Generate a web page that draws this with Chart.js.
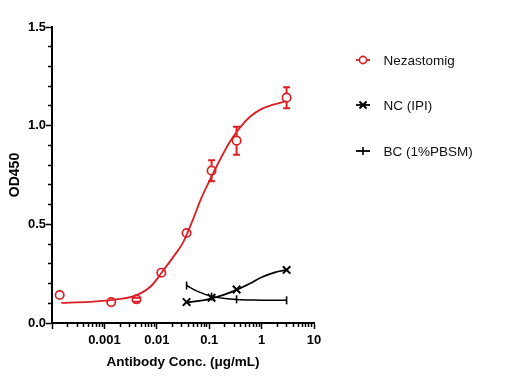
<!DOCTYPE html>
<html>
<head>
<meta charset="utf-8">
<script src="https://cdn.jsdelivr.net/npm/chart.js@4.4.1/dist/chart.umd.min.js"></script>
<style>
  html, body { margin: 0; padding: 0; background: #fff; }
  #wrap { width: 528px; height: 382px; position: relative; }
</style>
</head>
<body>
<div id="wrap"><canvas id="c" width="528" height="382"></canvas></div>
<script>
// ---- data ----
const seriesNames = ['Nezastomig', 'NC (IPI)', 'BC (1%PBSM)'];

const nezX = [0.00014, 0.00135, 0.0041, 0.0122, 0.037, 0.111, 0.333, 3];
const nezY = [0.142, 0.106, 0.120, 0.255, 0.456, 0.772, 0.924, 1.142];
const nezErrLow  = [null, null, 0.108, null, null, 0.718, 0.852, 1.088];
const nezErrHigh = [null, null, 0.128, null, null, 0.825, 0.995, 1.195];

const nezFitX = [0.00015, 0.0005, 0.0013, 0.004, 0.008, 0.0125, 0.02, 0.032, 0.05, 0.07, 0.11, 0.17, 0.25, 0.4, 0.6, 1.0, 1.6, 3];
const nezFitY = [0.102, 0.107, 0.116, 0.140, 0.190, 0.257, 0.330, 0.410, 0.530, 0.630, 0.740, 0.840, 0.920, 0.995, 1.045, 1.085, 1.105, 1.125];

const ncX = [0.037, 0.111, 0.333, 3];
const ncY = [0.106, 0.128, 0.170, 0.269];
const ncFitX = [0.037, 0.07, 0.111, 0.2, 0.333, 0.6, 1.0, 1.8, 3];
const ncFitY = [0.104, 0.113, 0.125, 0.145, 0.168, 0.200, 0.232, 0.257, 0.269];

const bcX = [0.037, 0.111, 0.333, 3];
const bcY = [0.190, 0.134, 0.120, 0.115];
const bcFitX = [0.037, 0.06, 0.111, 0.2, 0.333, 0.7, 1.5, 3];
const bcFitY = [0.190, 0.160, 0.135, 0.124, 0.119, 0.116, 0.115, 0.115];

const xTickValues = [0.001, 0.01, 0.1, 1, 10];
const xTickLabels = ['0.001', '0.01', '0.1', '1', '10'];
const yTickValues = [0, 0.5, 1.0, 1.5];
const yTickLabels = ['0.0', '0.5', '1.0', '1.5'];

// ---- styling ----
const RED = '#dc1e24';
const BLACK = '#000000';
const FONT = '"Liberation Sans", Arial, Helvetica, sans-serif';

const pts = (xs, ys) => xs.map((x, i) => ({ x: x, y: ys[i] }));

function near(a, b) { return Math.abs(a - b) <= Math.abs(b) * 1e-6 + 1e-12; }
function isXMajor(v) { return near(v, 1e-4) || xTickValues.some(t => near(v, t)); }
function isYMajor(v) { return yTickValues.some(t => Math.abs(v - t) < 1e-6); }

// error bars drawn through the chart's own scales
const errorBarPlugin = {
  id: 'errorBars',
  afterDatasetsDraw(chart) {
    const ctx = chart.ctx;
    const xs = chart.scales.x, ys = chart.scales.y;
    ctx.save();
    ctx.strokeStyle = RED;
    ctx.lineWidth = 2;
    nezX.forEach((x, i) => {
      if (nezErrLow[i] == null) return;
      const px = xs.getPixelForValue(x);
      const lo = ys.getPixelForValue(nezErrLow[i]);
      const hi = ys.getPixelForValue(nezErrHigh[i]);
      const r = 4.2;
      const cy = ys.getPixelForValue(nezY[i]);
      ctx.beginPath();
      if (hi < cy - r) { ctx.moveTo(px, cy - r); ctx.lineTo(px, hi); }
      if (lo > cy + r) { ctx.moveTo(px, cy + r); ctx.lineTo(px, lo); }
      ctx.moveTo(px - 3.5, hi); ctx.lineTo(px + 3.5, hi);
      ctx.moveTo(px - 3.5, lo); ctx.lineTo(px + 3.5, lo);
      ctx.stroke();
    });
    ctx.restore();
  }
};

// legend drawn on the right
const legendPlugin = {
  id: 'sideLegend',
  afterDraw(chart) {
    const ctx = chart.ctx;
    const items = [
      { y: 60, color: RED, style: 'circle', r: 3.6, rot: 0, bw: 1.6 },
      { y: 105, color: BLACK, style: 'crossRot', r: 5, rot: 0, bw: 1.9 },
      { y: 151, color: BLACK, style: 'line', r: 4, rot: 90, bw: 1.6 }
    ];
    ctx.save();
    items.forEach((it, i) => {
      ctx.strokeStyle = it.color;
      ctx.lineWidth = 1.8;
      ctx.beginPath();
      ctx.moveTo(356, it.y);
      ctx.lineTo(370, it.y);
      ctx.stroke();
      ctx.fillStyle = '#ffffff';
      ctx.strokeStyle = it.color;
      ctx.lineWidth = it.bw;
      Chart.helpers.drawPoint(ctx, { pointStyle: it.style, radius: it.r, rotation: it.rot, borderWidth: it.bw }, 363, it.y);
      ctx.fillStyle = '#111111';
      ctx.font = '13.5px ' + FONT;
      ctx.textAlign = 'left';
      ctx.textBaseline = 'middle';
      ctx.fillText(seriesNames[i], 383.5, it.y + 1);
    });
    ctx.restore();
  }
};

const xAllTicks = [];
for (let e = -4; e <= 0; e++) {
  for (let m = 1; m <= 9; m++) xAllTicks.push(Number((m * Math.pow(10, e)).toPrecision(6)));
}
xAllTicks.push(10);

const yAllTicks = [];
for (let k = 0; k <= 15; k++) yAllTicks.push(Number((k * 0.1).toFixed(1)));

new Chart(document.getElementById('c'), {
  type: 'scatter',
  data: {
    datasets: [
      { label: 'fit1', data: pts(nezFitX, nezFitY), showLine: true, borderColor: RED, borderWidth: 1.8,
        pointRadius: 0, cubicInterpolationMode: 'monotone', fill: false, order: 3 },
      { label: seriesNames[0], data: pts(nezX, nezY), showLine: false, pointStyle: 'circle', pointRadius: 4.2,
        pointBorderWidth: 1.7, borderColor: RED, pointBorderColor: RED, pointBackgroundColor: 'rgba(255,255,255,0)', order: 1 },
      { label: 'fit2', data: pts(ncFitX, ncFitY), showLine: true, borderColor: BLACK, borderWidth: 1.8,
        pointRadius: 0, cubicInterpolationMode: 'monotone', fill: false, order: 3 },
      { label: seriesNames[1], data: pts(ncX, ncY), showLine: false, pointStyle: 'crossRot', pointRadius: 5.3,
        pointBorderWidth: 2, pointBorderColor: BLACK, borderColor: BLACK, order: 1 },
      { label: 'fit3', data: pts(bcFitX, bcFitY), showLine: true, borderColor: BLACK, borderWidth: 1.5,
        pointRadius: 0, cubicInterpolationMode: 'monotone', fill: false, order: 3 },
      { label: seriesNames[2], data: pts(bcX, bcY), showLine: false, pointStyle: 'line', pointRotation: 90, pointRadius: 4,
        pointBorderWidth: 1.6, pointBorderColor: BLACK, borderColor: BLACK, order: 1 }
    ]
  },
  options: {
    responsive: false,
    animation: false,
    events: [],
    layout: { padding: { left: 0, top: 27, right: 214, bottom: 0 } },
    plugins: { legend: { display: false }, tooltip: { enabled: false } },
    scales: {
      x: {
        type: 'logarithmic',
        min: 1e-4, max: 10,
        afterBuildTicks(scale) { scale.ticks = xAllTicks.map(v => ({ value: v })); },
        afterFit(scale) { scale.height = 59; },
        border: { display: true, color: BLACK, width: 2 },
        grid: {
          drawOnChartArea: false, drawTicks: true, tickLength: 6, tickColor: BLACK, tickWidth: 1.5,
          tickBorderDash: (ctx) => (ctx.tick && isXMajor(ctx.tick.value)) ? [] : [3, 20]
        },
        ticks: {
          autoSkip: false, maxRotation: 0, minRotation: 0, padding: 4, color: BLACK,
          font: { family: FONT, size: 13, weight: 'bold' },
          callback: function (value, index, ticks) {
            const v = ticks[index].value;
            const j = xTickValues.findIndex(t => near(v, t));
            return j >= 0 ? xTickLabels[j] : '';
          }
        },
        title: {
          display: true, text: 'Antibody Conc. (μg/mL)', color: BLACK,
          font: { family: FONT, size: 13.5, weight: 'bold' },
          padding: { top: 0, bottom: 12 }
        }
      },
      y: {
        type: 'linear',
        min: 0, max: 1.5,
        afterBuildTicks(scale) { scale.ticks = yAllTicks.map(v => ({ value: v })); },
        afterFit(scale) { scale.width = 52; },
        border: { display: true, color: BLACK, width: 2 },
        grid: {
          drawOnChartArea: false, drawTicks: true, tickLength: 6, tickColor: BLACK, tickWidth: 1.5,
          tickBorderDash: (ctx) => (ctx.tick && isYMajor(ctx.tick.value)) ? [] : [0, 2, 3, 20]
        },
        ticks: {
          autoSkip: false, padding: 0, color: BLACK,
          font: { family: FONT, size: 13, weight: 'bold' },
          callback: function (value, index, ticks) {
            const v = ticks[index].value;
            const j = yTickValues.findIndex(t => Math.abs(v - t) < 1e-6);
            return j >= 0 ? yTickLabels[j] : '';
          }
        },
        title: {
          display: true, text: 'OD450', color: BLACK,
          font: { family: FONT, size: 14, weight: 'bold' },
          padding: { top: 6.6, bottom: 0 }
        }
      }
    }
  },
  plugins: [errorBarPlugin, legendPlugin]
});
</script>
</body>
</html>
